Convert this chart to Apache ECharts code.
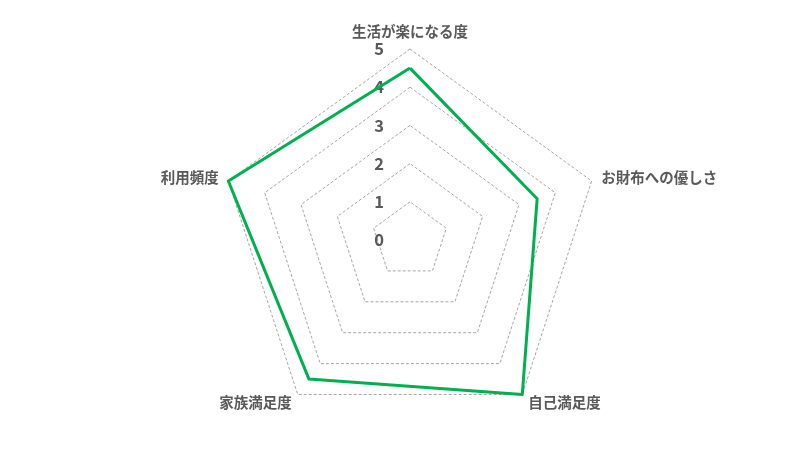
<!DOCTYPE html>
<html>
<head>
<meta charset="utf-8">
<script src="https://cdn.jsdelivr.net/npm/echarts@6/dist/echarts.min.js"></script>
<style>
html,body{margin:0;padding:0;background:#fff;}
#chart{width:800px;height:453px;}
</style>
</head>
<body>
<div id="chart"></div>
<script>
// 項目と値（EChartsは反時計回りに並べるので、その順で書く）
var indicators=["生活が楽になる度","利用頻度","家族満足度","自己満足度","お財布への優しさ"];
var scores=[4.5,5,4.5,5,3.5];
var maxScore=5;

var chart=echarts.init(document.getElementById("chart"));

var indicatorList=[];
for(var i=0;i<indicators.length;i++){
	var item={name:indicators[i],min:0,max:maxScore};
	//最初の軸だけ目盛りの数字を出す
	if(i==0){
		item.axisLabel={show:true};
	}
	indicatorList.push(item);
}

var option={
	animation:false,
	radar:{
		center:[410,240],
		radius:191,
		startAngle:90,
		splitNumber:5,
		shape:"polygon",
		indicator:indicatorList,
		axisName:{
			color:"#595959",
			fontSize:14.5,
			fontWeight:"bold",
			fontFamily:"Noto Sans CJK JP"
		},
		nameGap:10,
		axisLine:{show:false},
		axisTick:{show:false},
		splitArea:{show:false},
		splitLine:{
			lineStyle:{color:"#a6a6a6",type:[3,2],width:1}
		},
		axisLabel:{
			show:false,
			margin:26,
			color:"#595959",
			fontSize:16.5,
			fontWeight:"bold",
			fontFamily:"Noto Sans CJK JP"
		}
	},
	series:[{
		type:"radar",
		symbol:"none",
		data:[{
			value:scores,
			lineStyle:{color:"#00b050",width:3}
		}]
	}]
};
chart.setOption(option);
</script>
</body>
</html>
